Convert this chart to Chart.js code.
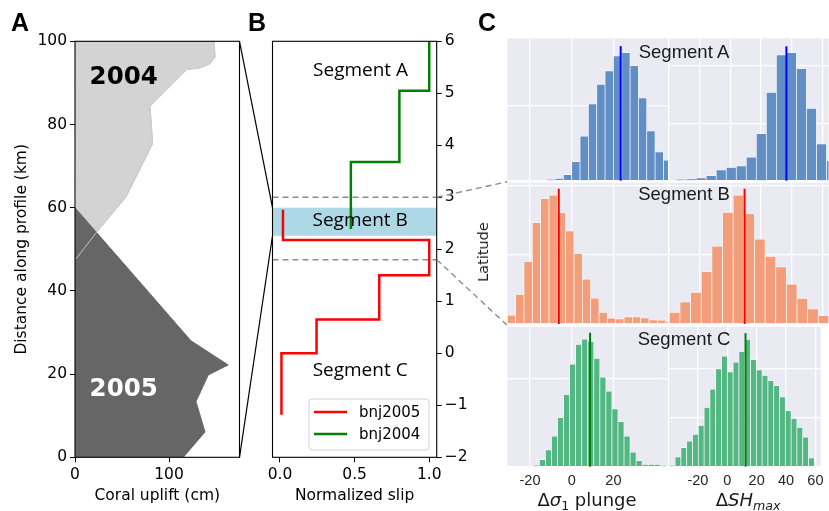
<!DOCTYPE html>
<html>
<head>
<meta charset="utf-8">
<script src="https://cdn.jsdelivr.net/npm/chart.js@4.4.1/dist/chart.umd.min.js"></script>
<style>
  html, body { margin: 0; padding: 0; background: #fff; }
  #fig { position: relative; width: 829px; height: 511px; overflow: hidden; }
  #fig canvas { position: absolute; left: 0; top: 0; }
  .txt { position: absolute; white-space: nowrap; color: #000; }
  .letter { font: bold 25px 'Liberation Sans', Arial, sans-serif; line-height: 25px; }
  .seg { font: 18.5px 'Liberation Sans', Arial, sans-serif; line-height: 20px; color: #1a1a1a; left: 684px; transform: translateX(-50%); }
  .xlab { font: 18px 'DejaVu Sans', sans-serif; line-height: 21.6px; color: #1a1a1a; transform: translateX(-50%); }
  .xlab sub { font-size: 0.7em; vertical-align: -0.3em; line-height: 0; }
  .ylab { font: 14.5px 'DejaVu Sans', sans-serif; line-height: 16px; color: #1a1a1a; transform: translate(-50%, -50%) rotate(-90deg); }
</style>
</head>
<body>
<div id="fig">
  <canvas id="chartA" width="829" height="511"></canvas>
  <canvas id="chartB" width="829" height="511"></canvas>
  <canvas id="histA1" width="829" height="511"></canvas>
  <canvas id="histA2" width="829" height="511"></canvas>
  <canvas id="histB1" width="829" height="511"></canvas>
  <canvas id="histB2" width="829" height="511"></canvas>
  <canvas id="histC1" width="829" height="511"></canvas>
  <canvas id="histC2" width="829" height="511"></canvas>
  <canvas id="overlay" width="829" height="511"></canvas>

  <div class="txt letter" style="left:11px;top:10px">A</div>
  <div class="txt letter" style="left:248px;top:10px">B</div>
  <div class="txt letter" style="left:478px;top:10px">C</div>
  <div class="txt seg" style="top:42px">Segment A</div>
  <div class="txt seg" style="top:184px">Segment B</div>
  <div class="txt seg" style="top:329px">Segment C</div>
  <div class="txt xlab" style="left:587px;top:489px">Δ<i>σ</i><sub>1</sub> plunge</div>
  <div class="txt xlab" style="left:748px;top:489px">Δ<i>SH</i><sub><i>max</i></sub></div>
  <div class="txt ylab" style="left:483px;top:252px">Latitude</div>
</div>

<script>
// ---- panel A: coral uplift along profile
const uplift2004 = [148, 149, 143.6, 133, 118.8, 79.8, 82.6, 54.3, 23, 1]
const dist2004 = [100, 96.2, 94.6, 93.6, 93.2, 84.4, 75.4, 62.6, 54.1, 47.7]
const uplift2005 = [0, 123.4, 163, 141.8, 128.7, 138.3, 115.2]
const dist2005 = [60, 28, 22.2, 19.8, 13.4, 6.1, 0]
const ticksUplift = [0, 100]
const ticksDist = [0, 20, 40, 60, 80, 100]

// ---- panel B: normalized slip (step profiles)
const seriesNames = ['bnj2005', 'bnj2004']
const slip2005 = [0.02, 1.0, 0.665, 0.245, 0.01]
const edges2005 = [2.76, 2.18, 1.5, 0.65, 0.0, -1.18]
const slip2004 = [1.0, 0.8, 0.475]
const edges2004 = [6.0, 5.05, 3.68, 2.39]
const ticksSlip = [0, 0.5, 1]
const ticksLat = [-2, -1, 0, 1, 2, 3, 4, 5, 6]
const segmentB = [2.26, 2.8]
const segmentLimits = [3.0, 1.8]

// ---- panel C: histograms (counts per bin)
const plungeA = [3, 6, 16, 51, 119, 205, 257, 293, 333, 342, 307, 221, 133, 77, 55]
const shA = [2, 3, 5, 9, 19, 23, 26, 41, 82, 154, 219, 223, 195, 126, 64, 35]
const plungeB = [26, 86, 181, 294, 364, 374, 323, 270, 205, 130, 75, 34, 17, 15, 21, 21, 18, 12, 11, 7]
const shB = [17, 32, 46, 76, 113, 162, 187, 160, 123, 98, 83, 58, 37, 22, 12]
const plungeC = [3, 16, 38, 69, 111, 163, 232, 277, 289, 284, 245, 203, 171, 131, 102, 69, 33, 14, 5, 5, 5, 2]
const shC = [2, 20, 39, 52, 66, 84, 121, 158, 199, 225, 193, 213, 234, 259, 218, 197, 186, 175, 165, 142, 114, 98, 80, 60, 18]
const binStart = { pA: -12, sA: -35.1, pB: -30.9, sB: -39.5, pC: -18.4, sC: -39.5 }
const binWidth = { pA: 4, sA: 6.5, pB: 4, sB: 6.9, pC: 2.9, sC: 3.95 }
const means = { pA: 23.5, sA: 36.4, pB: -6.2, sB: 9.3, pC: 8.8, sC: 12.4 }
const ticksPlunge = [-20, 0, 20]
const ticksSH = [-40, -20, 0, 20, 40, 60]
const countTicks = { pA: [0, 200], sA: [0, 100, 200], pB: [0, 200, 400], sB: [0, 100, 200], pC: [0, 200], sC: [0, 100, 200] }
const countMax = { pA: 380, sA: 248, pB: 410, sB: 205, pC: 317, sC: 285 }

const W = 829, H = 511
Chart.defaults.font.family = "'DejaVu Sans', sans-serif"
Chart.defaults.font.size = 15.5
Chart.defaults.color = '#000'
Chart.defaults.animation = false
Chart.defaults.responsive = false
Chart.defaults.plugins.legend.display = false
Chart.defaults.plugins.tooltip.enabled = false

const fixTicks = vals => s => { s.ticks = vals.map(v => ({ value: v })) }
const minus = v => v < 0 ? '\u2212' + Math.abs(v) : String(v)

const boxPlugin = {
    id: 'box',
    afterDraw(chart) {
        const { ctx, chartArea: a } = chart
        ctx.save()
        ctx.strokeStyle = '#000'
        ctx.lineWidth = 1.1
        ctx.strokeRect(a.left, a.top, a.right - a.left, a.bottom - a.top)
        ctx.restore()
    }
}

const notesPlugin = {
    id: 'notes',
    afterDatasetsDraw(chart, args, opts) {
        const { ctx, scales } = chart
        ctx.save()
        ctx.textAlign = 'center'
        ctx.textBaseline = 'alphabetic'
        opts.items.forEach(n => {
            ctx.font = opts.font
            ctx.fillStyle = n.color || '#000'
            ctx.fillText(n.text, scales.x.getPixelForValue(n.x), scales.y.getPixelForValue(n.y))
        })
        ctx.restore()
    }
}

// ---------------- panel A
const poly2004 = [{ x: 0, y: dist2004[0] }]
    .concat(uplift2004.map((u, i) => ({ x: u, y: dist2004[i] })))
    .concat([{ x: 0, y: dist2004[dist2004.length - 1] }])
const poly2005 = uplift2005.map((u, i) => ({ x: u, y: dist2005[i] }))
    .concat([{ x: 0, y: 0 }])

const chartA = new Chart(document.getElementById('chartA'), {
    type: 'scatter',
    data: {
        datasets: [
            { data: poly2004, showLine: true, fill: false, borderColor: 'rgba(205,205,205,0.9)', borderWidth: 1, pointRadius: 0 },
            { data: poly2005, showLine: true, fill: 'shape', backgroundColor: '#666666', borderColor: '#6a6a6a', borderWidth: 1, pointRadius: 0 },
            { data: poly2004, showLine: true, fill: 'shape', backgroundColor: '#d3d3d3', borderColor: '#c4c4c4', borderWidth: 1, pointRadius: 0 }
        ]
    },
    options: {
        layout: { autoPadding: false, padding: { left: 0, top: 41.3, right: W - 239.5, bottom: 0 } },
        scales: {
            x: {
                type: 'linear', min: 0, max: 175,
                afterBuildTicks: fixTicks(ticksUplift),
                afterFit: s => { s.height = H - 457.3 },
                grid: { drawOnChartArea: false, color: '#000', tickLength: 5 },
                border: { display: false },
                ticks: { padding: 3 },
                title: { display: true, text: 'Coral uplift (cm)', padding: { top: 0, bottom: 6 } }
            },
            y: {
                type: 'linear', min: 0, max: 100,
                afterBuildTicks: fixTicks(ticksDist),
                afterFit: s => { s.width = 75 },
                grid: { drawOnChartArea: false, color: '#000', tickLength: 5 },
                border: { display: false },
                ticks: { padding: 3 },
                title: { display: true, text: 'Distance along profile (km)', padding: { top: 13, bottom: 0 } }
            }
        },
        plugins: {
            notes: {
                font: "bold 24.5px 'DejaVu Sans'",
                items: [
                    { text: '2004', x: 51.8, y: 89.8, color: '#000' },
                    { text: '2005', x: 51.8, y: 14.8, color: '#fff' }
                ]
            }
        }
    },
    plugins: [boxPlugin, notesPlugin]
})

// ---------------- panel B
const steps = (slip, edges) => {
    const pts = []
    slip.forEach((s, i) => { pts.push({ x: s, y: edges[i] }, { x: s, y: edges[i + 1] }) })
    return pts
}
const lineColors = ['#ff0000', '#008000']

const bandPlugin = {
    id: 'band',
    beforeDatasetsDraw(chart) {
        const { ctx, chartArea: a, scales: { y } } = chart
        ctx.save()
        ctx.fillStyle = '#add8e6'
        const y1 = y.getPixelForValue(segmentB[1]), y0 = y.getPixelForValue(segmentB[0])
        ctx.fillRect(a.left, y1, a.right - a.left, y0 - y1)
        ctx.strokeStyle = '#8c8c8c'
        ctx.lineWidth = 1.4
        ctx.setLineDash([6, 4])
        segmentLimits.forEach(v => {
            const py = y.getPixelForValue(v)
            ctx.beginPath(); ctx.moveTo(a.left, py); ctx.lineTo(a.right, py); ctx.stroke()
        })
        ctx.restore()
    }
}

const legendPlugin = {
    id: 'slipLegend',
    afterDraw(chart) {
        const { ctx, chartArea: a } = chart
        const w = 120, h = 51
        const lx = a.right - 7.7 - w, ly = a.bottom - 7.3 - h
        ctx.save()
        ctx.beginPath()
        ctx.roundRect(lx, ly, w, h, 3)
        ctx.fillStyle = 'rgba(255,255,255,0.85)'
        ctx.fill()
        ctx.strokeStyle = '#d2d2d2'
        ctx.lineWidth = 1
        ctx.stroke()
        ctx.font = "15px 'DejaVu Sans'"
        ctx.textBaseline = 'middle'
        ctx.textAlign = 'left'
        seriesNames.forEach((name, i) => {
            const yy = ly + 13 + i * 22
            ctx.strokeStyle = lineColors[i]
            ctx.lineWidth = 2.5
            ctx.beginPath(); ctx.moveTo(lx + 5, yy); ctx.lineTo(lx + 38, yy); ctx.stroke()
            ctx.fillStyle = '#000'
            ctx.fillText(name, lx + 50, yy + 1)
        })
        ctx.restore()
    }
}

const chartB = new Chart(document.getElementById('chartB'), {
    type: 'scatter',
    data: {
        datasets: [
            { label: seriesNames[0], data: steps(slip2005, edges2005), showLine: true, borderColor: lineColors[0], borderWidth: 2.5, pointRadius: 0 },
            { label: seriesNames[1], data: steps(slip2004, edges2004), showLine: true, borderColor: lineColors[1], borderWidth: 2.5, pointRadius: 0 }
        ]
    },
    options: {
        layout: { autoPadding: false, padding: { left: 272.5, top: 41.3, right: W - 470, bottom: 0 } },
        scales: {
            x: {
                type: 'linear', min: -0.05, max: 1.05,
                afterBuildTicks: fixTicks(ticksSlip),
                afterFit: s => { s.height = H - 457.3 },
                grid: { drawOnChartArea: false, color: '#000', tickLength: 5 },
                border: { display: false },
                ticks: { padding: 3, callback: v => v.toFixed(1) },
                title: { display: true, text: 'Normalized slip', padding: { top: 0, bottom: 6 } }
            },
            y: {
                type: 'linear', position: 'right', min: -2, max: 6,
                afterBuildTicks: fixTicks(ticksLat),
                afterFit: s => { s.width = 470 - 436.7 },
                grid: { drawOnChartArea: false, color: '#000', tickLength: 5 },
                border: { display: false },
                ticks: { padding: 3, callback: minus }
            }
        },
        plugins: {
            notes: {
                font: "19px 'Open Sans'",
                items: [
                    { text: 'Segment A', x: 0.54, y: 5.33 },
                    { text: 'Segment B', x: 0.537, y: 2.44 },
                    { text: 'Segment C', x: 0.537, y: -0.43 }
                ]
            }
        }
    },
    plugins: [bandPlugin, boxPlugin, notesPlugin, legendPlugin]
})

// ---------------- panel C
const bgPlugin = {
    id: 'bg',
    beforeDraw(chart) {
        const { ctx, chartArea: a } = chart
        ctx.save()
        ctx.fillStyle = '#eaeaf2'
        ctx.fillRect(a.left, a.top, a.right - a.left, a.bottom - a.top)
        ctx.restore()
    }
}
const meanPlugin = {
    id: 'meanLine',
    afterDatasetsDraw(chart, args, opts) {
        const { ctx, scales: { x, y } } = chart
        const px = x.getPixelForValue(opts.value)
        ctx.save()
        ctx.strokeStyle = opts.color
        ctx.lineWidth = 2
        ctx.beginPath()
        ctx.moveTo(px, y.getPixelForValue(0))
        ctx.lineTo(px, y.getPixelForValue(opts.top))
        ctx.stroke()
        ctx.restore()
    }
}

const colLeft = [507.3, 668], colRight = [669, 828.5]
const rows = [[38.3, 180.7], [182.7, 324], [326.7, 466.7]]
const plungeRange = [-30.9, 46.2], shRange = [-39.7, 63.7]

function makeHist(id, key, counts, col, row, range, xTicks, barColor, meanColor, showLabels) {
    const bars = counts.map((c, i) => ({ x: binStart[key] + (i + 0.5) * binWidth[key], y: c }))
    const xH = showLabels ? H - row[1] : 0
    return new Chart(document.getElementById(id), {
        type: 'bar',
        data: {
            datasets: [{
                data: bars, backgroundColor: barColor,
                borderColor: 'rgba(255,255,255,0.8)', borderWidth: 0.7,
                barPercentage: 1, categoryPercentage: 1
            }]
        },
        options: {
            layout: { autoPadding: false, padding: { left: col[0], top: row[0], right: W - col[1], bottom: H - row[1] - xH } },
            scales: {
                x: {
                    type: 'linear', min: range[0], max: range[1], offset: false,
                    afterBuildTicks: fixTicks(xTicks),
                    afterFit: s => { s.height = xH },
                    grid: { color: '#ffffff', lineWidth: 1.3, drawTicks: false, offset: false },
                    border: { display: false },
                    ticks: { display: showLabels, padding: 5.5, color: '#262626', font: { family: "'Liberation Sans'", size: 14.5 }, callback: v => String(v) }
                },
                y: {
                    type: 'linear', min: 0, max: countMax[key],
                    afterBuildTicks: fixTicks(countTicks[key]),
                    afterFit: s => { s.width = 0 },
                    grid: { color: '#ffffff', lineWidth: 1.3, drawTicks: false },
                    border: { display: false },
                    ticks: { display: false }
                }
            },
            plugins: { meanLine: { value: means[key], top: Math.max(...counts) * 1.05, color: meanColor } }
        },
        plugins: [bgPlugin, meanPlugin]
    })
}

const blue = '#628ec6', orange = '#f29e7a', green = '#52b783'
const hA1 = makeHist('histA1', 'pA', plungeA, colLeft, rows[0], plungeRange, ticksPlunge, blue, '#0000ff', false)
const hA2 = makeHist('histA2', 'sA', shA, colRight, rows[0], shRange, ticksSH, blue, '#0000ff', false)
const hB1 = makeHist('histB1', 'pB', plungeB, colLeft, rows[1], plungeRange, ticksPlunge, orange, '#ff0000', false)
const hB2 = makeHist('histB2', 'sB', shB, colRight, rows[1], shRange, ticksSH, orange, '#ff0000', false)
const hC1 = makeHist('histC1', 'pC', plungeC, colLeft, rows[2], plungeRange, ticksPlunge, green, '#008000', true)
const hC2 = makeHist('histC2', 'sC', shC, colRight, rows[2], shRange, ticksSH.filter(v => v > -40), green, '#008000', true)

// ---------------- connectors between panels
const ov = document.getElementById('overlay').getContext('2d')
const seg = (x1, y1, x2, y2) => { ov.beginPath(); ov.moveTo(x1, y1); ov.lineTo(x2, y2); ov.stroke() }
const aA = chartA.chartArea, aB = chartB.chartArea, yB = v => chartB.scales.y.getPixelForValue(v)
ov.strokeStyle = '#000'
ov.lineWidth = 1.2
seg(aA.right, aA.top, aB.left, yB(segmentB[1]))
seg(aA.right, aA.bottom, aB.left, yB(segmentB[0]))
ov.strokeStyle = '#8c8c8c'
ov.lineWidth = 1.4
ov.setLineDash([6, 4])
seg(aB.right, yB(segmentLimits[0]), hA1.chartArea.left, (hA1.chartArea.bottom + hB1.chartArea.top) / 2)
seg(aB.right, yB(segmentLimits[1]), hB1.chartArea.left, (hB1.chartArea.bottom + hC1.chartArea.top) / 2)
</script>
</body>
</html>
